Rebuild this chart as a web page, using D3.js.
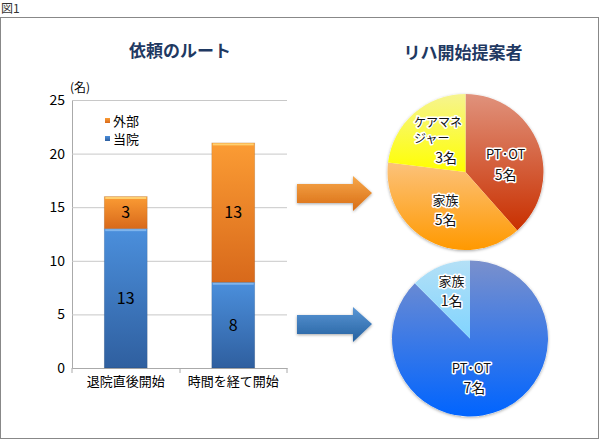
<!DOCTYPE html>
<html>
<head>
<meta charset="utf-8">
<script src="https://d3js.org/d3.v7.min.js"></script>
<style>
  body { margin: 0; background: #fff; }
  text { font-family: "Noto Sans CJK JP", "Noto Sans", sans-serif; }
  .halo { paint-order: stroke; stroke: #fff; stroke-width: 3px; stroke-linejoin: round; }
</style>
</head>
<body>
<svg id="fig" width="600" height="440"></svg>
<script>
// bar chart data
const categories = ['退院直後開始', '時間を経て開始'];
const touin = [13, 8];    // 当院
const gaibu = [3, 13];    // 外部
const yTicks = [0, 5, 10, 15, 20, 25];
const legendNames = ['外部', '当院'];

// pie data
const pie1Names = ['PT･OT', '家族', 'ケアマネジャー'];
const pie1Values = [5, 5, 3];
const pie2Names = ['PT･OT', '家族'];
const pie2Values = [7, 1];

const svg = d3.select('#fig');
const defs = svg.append('defs');

function vgrad(id, c1, c2) {
  const g = defs.append('linearGradient').attr('id', id)
    .attr('x1', 0).attr('y1', 0).attr('x2', 0).attr('y2', 1);
  g.append('stop').attr('offset', '0%').attr('stop-color', c1);
  g.append('stop').attr('offset', '100%').attr('stop-color', c2);
}
vgrad('gBlue', '#4b8fdc', '#2f5f9f');
vgrad('gOrange', '#fb9c34', '#d8691b');
vgrad('gArrO', '#f7a84a', '#d86c14');
vgrad('gArrB', '#5a97d6', '#24609f');
vgrad('gP1a', '#e0927c', '#c93000');
vgrad('gP1b', '#fcc27a', '#ff9900');
vgrad('gP1c', '#f6f490', '#ffff00');
vgrad('gP2a', '#7a90cc', '#0064ff');
vgrad('gP2b', '#b4e0f6', '#80d4ff');

const shadow = defs.append('filter').attr('id', 'sh')
  .attr('x', '-20%').attr('y', '-20%').attr('width', '140%').attr('height', '140%');
shadow.append('feDropShadow').attr('dx', 0).attr('dy', 1).attr('stdDeviation', 1.6)
  .attr('flood-color', '#000').attr('flood-opacity', 0.35);

// frame
svg.append('text').attr('x', 1).attr('y', 13).attr('font-size', 12).attr('fill', '#333').text('図1');
svg.append('rect').attr('x', 0.5).attr('y', 17.5).attr('width', 598).attr('height', 421)
  .attr('fill', '#fff').attr('stroke', '#888');

// ---- stacked bar ----
const y = d3.scaleLinear().domain([0, 25]).range([368, 100]);
const x = d3.scaleBand().domain(categories).range([72, 287]).paddingInner(0.6).paddingOuter(0.3);

svg.append('text').attr('x', 180).attr('y', 57).attr('text-anchor', 'middle')
  .attr('font-size', 17).attr('font-weight', 'bold').attr('fill', '#1f3962').text('依頼のルート');

const yAxis = svg.append('g').attr('transform', 'translate(72,0)')
  .call(d3.axisLeft(y).tickValues(yTicks).tickSize(-215).tickPadding(7));
yAxis.select('.domain').attr('stroke', '#aaa');
yAxis.selectAll('.tick line').attr('stroke', '#c8c8c8');
yAxis.selectAll('.tick text').attr('font-size', 14).attr('fill', '#000');

const xAxis = svg.append('g').attr('transform', 'translate(0,368)')
  .call(d3.axisBottom(x).tickSize(0).tickPadding(9));
xAxis.select('.domain').attr('stroke', '#aaa');
xAxis.selectAll('.tick text').attr('font-size', 13).attr('fill', '#000');
// category separators
[72, 180, 287].forEach(t => svg.append('line').attr('x1', t).attr('x2', t)
  .attr('y1', 368).attr('y2', 373).attr('stroke', '#aaa'));

svg.append('text').attr('x', 70).attr('y', 92).attr('font-size', 12).text('(名)');

const rows = categories.map((c, i) => ({ c, touin: touin[i], gaibu: gaibu[i] }));
const stack = d3.stack().keys(['touin', 'gaibu'])(rows);
const fills = { touin: 'url(#gBlue)', gaibu: 'url(#gOrange)' };
const tops = { touin: '#7fb4ec', gaibu: '#ffd070' };

stack.forEach(layer => {
  const g = svg.append('g');
  layer.forEach(d => {
    const x0 = x(d.data.c), w = x.bandwidth();
    g.append('rect').attr('x', x0).attr('y', y(d[1])).attr('width', w)
      .attr('height', y(d[0]) - y(d[1])).attr('fill', fills[layer.key])
      .attr('stroke', 'rgba(0,0,0,0.12)').attr('stroke-width', 0.8);
    g.append('rect').attr('x', x0 + 1).attr('y', y(d[1]) + 0.5).attr('width', w - 2).attr('height', 2)
      .attr('fill', tops[layer.key]);
    g.append('text').attr('x', x0 + w / 2).attr('y', y((d[0] + d[1]) / 2)).attr('dy', '0.36em')
      .attr('text-anchor', 'middle').attr('font-size', 16).attr('fill', '#000')
      .text(d[1] - d[0]);
  });
});

// legend
const leg = svg.append('g');
legendNames.forEach((n, i) => {
  leg.append('rect').attr('x', 105).attr('y', 118 + i * 18).attr('width', 5).attr('height', 5)
    .attr('fill', i === 0 ? 'url(#gOrange)' : 'url(#gBlue)');
  leg.append('text').attr('x', 113).attr('y', 121 + i * 18).attr('dy', '0.36em')
    .attr('font-size', 13).text(n);
});

// ---- arrows ----
function arrow(cy, fill) {
  const p = d3.path();
  p.moveTo(297, cy - 9); p.lineTo(353, cy - 9); p.lineTo(353, cy - 17);
  p.lineTo(372, cy); p.lineTo(353, cy + 18); p.lineTo(353, cy + 10);
  p.lineTo(297, cy + 10); p.closePath();
  svg.append('path').attr('d', p.toString()).attr('fill', fill).attr('filter', 'url(#sh)');
}
arrow(193, 'url(#gArrO)');
arrow(324, 'url(#gArrB)');

// ---- pies ----
svg.append('text').attr('x', 463).attr('y', 59).attr('text-anchor', 'middle')
  .attr('font-size', 17).attr('font-weight', 'bold').attr('fill', '#1f3962').text('リハ開始提案者');

const pieGen = d3.pie().sort(null).value(d => d);

function drawPie(cx, cy, r, values, fillsArr) {
  const g = svg.append('g').attr('transform', `translate(${cx},${cy})`);
  const arc = d3.arc().innerRadius(0).outerRadius(r);
  const arcs = pieGen(values);
  g.append('circle').attr('r', r).attr('fill', '#fff').attr('filter', 'url(#sh)');
  arcs.forEach((a, i) => {
    g.append('path').attr('d', arc(a)).attr('fill', fillsArr[i]);
  });
  return { g, arcs, lab: d3.arc().innerRadius(0).outerRadius(r * 1.1) };
}

function halo(g, px, py, str, size, anchor) {
  g.append('text').attr('class', 'halo').attr('x', px).attr('y', py).attr('dy', '0.36em')
    .attr('text-anchor', anchor || 'middle').attr('font-size', size).attr('fill', '#111').text(str);
}

const p1 = drawPie(465.5, 172, 78, pie1Values, ['url(#gP1a)', 'url(#gP1b)', 'url(#gP1c)']);
p1.arcs.forEach((a, i) => {
  let [lx, ly] = p1.lab.centroid(a);
  if (i === 2) {
    halo(p1.g, lx - 23, ly - 17, pie1Names[i].slice(0, 4), 12, 'start');
    halo(p1.g, lx - 23, ly - 1, pie1Names[i].slice(4), 12, 'start');
    halo(p1.g, lx + 20, ly + 18, pie1Values[i] + '名', 14, 'end');
  } else {
    if (i === 0) ly += 8;
    halo(p1.g, lx, ly - 10, pie1Names[i], 13);
    halo(p1.g, lx, ly + 10, pie1Values[i] + '名', 14);
  }
});

const p2 = drawPie(470, 338.5, 78, pie2Values, ['url(#gP2a)', 'url(#gP2b)']);
p2.arcs.forEach((a, i) => {
  let [lx, ly] = p2.lab.centroid(a);
  if (i === 0) lx -= 15;
  else { lx -= 2; ly -= 8; }
  halo(p2.g, lx, ly - 10, pie2Names[i], 13);
  halo(p2.g, lx + (i === 0 ? 3 : 0), ly + 10, pie2Values[i] + '名', 14);
});
</script>
</body>
</html>
